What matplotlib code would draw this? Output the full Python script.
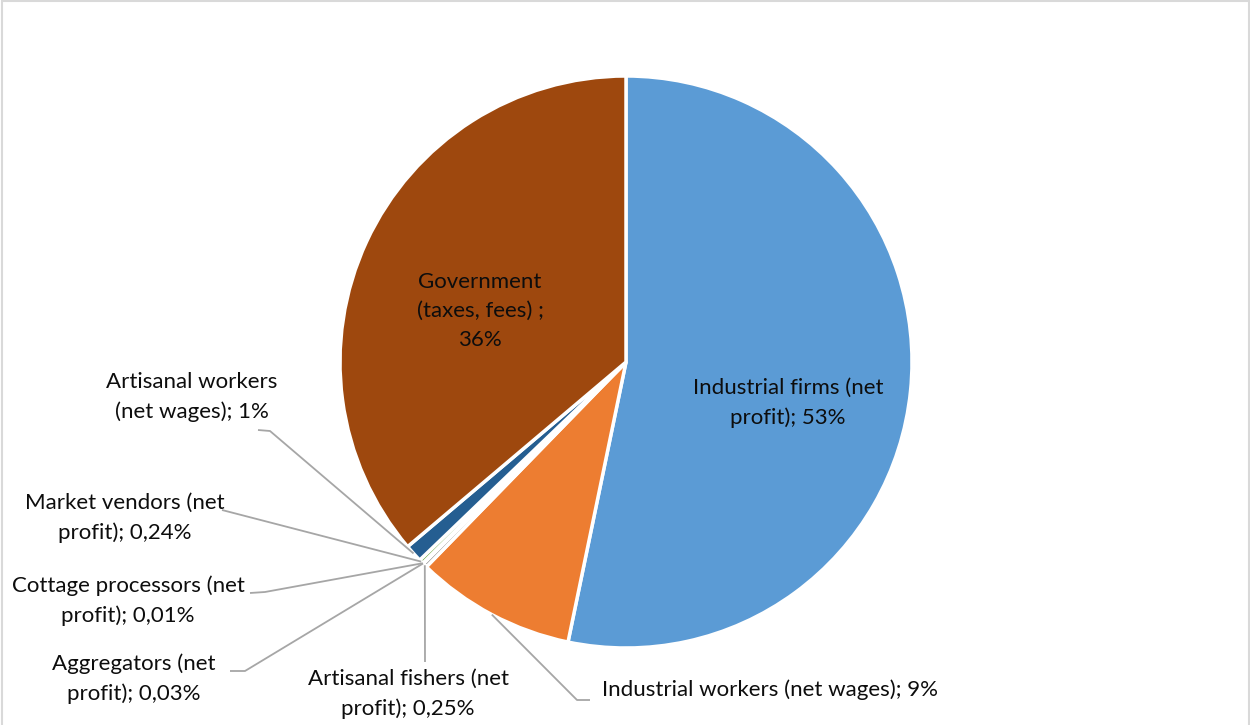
import numpy as np
import matplotlib.pyplot as plt
from matplotlib.patches import Rectangle

plt.rcParams['font.family'] = ['Lato', 'DejaVu Sans']

# shares of value (%) going clockwise from 12 o'clock
names = ["Industrial firms (net\nprofit)", "Industrial workers (net wages)",
         "Artisanal fishers (net\nprofit)", "Aggregators (net\nprofit)",
         "Cottage processors (net\nprofit)", "Market vendors (net\nprofit)",
         "Artisanal workers\n(net wages)", "Government\n(taxes, fees) "]
values = [53, 9, 0.25, 0.03, 0.01, 0.24, 1, 36]
seps = ["; ", "; ", "; ", "; ", "; ", "; ", "; ", ";\n"]
colors = ["#5B9BD5", "#ED7D31", "#A5A5A5", "#FFC000",
          "#4472C4", "#70AD47", "#255E91", "#9E480E"]

W, H = 1250, 725

def fmt(v):
    if v >= 1:
        return f"{v:.0f}%"
    return f"{v:.2f}%".replace(".", ",")

fig = plt.figure(figsize=(W / 100, H / 100), dpi=100)
ax = fig.add_axes([0, 0, 1, 1])
ax.set_xlim(0, W)
ax.set_ylim(0, H)
ax.set_aspect('equal')
ax.axis('off')

# chart frame
ax.add_patch(Rectangle((1.5, -10), W - 3, H - 0.5 + 10, fill=False,
                       edgecolor="#D9D9D9", linewidth=1.5))

cx, cy, r = 626, H - 362, 286
wedges, _ = ax.pie(values, colors=colors, startangle=90, counterclock=False,
                   center=(cx, cy), radius=r,
                   wedgeprops=dict(edgecolor='white', linewidth=2.5))
ax.set_xlim(0, W)
ax.set_ylim(0, H)

texts = [n + s + fmt(v) for n, s, v in zip(names, seps, values)]

def edge_point(w, k=1.0):
    a = np.deg2rad((w.theta1 + w.theta2) / 2)
    return cx + k * r * np.cos(a), cy + k * r * np.sin(a)

# (text centre, leader path start) in pixels from top-left; None = inside label
label_pos = [
    ((788, 403), None),
    ((770, 690), [(590, 700), (577, 700)]),
    ((408, 694), [(425, 662)]),
    ((134, 679), [(230, 671), (245, 671)]),
    ((128, 601), [(250, 593), (265, 592)]),
    ((125, 518), [(222, 510)]),
    ((192, 397), [(258, 430), (270, 431)]),
    ((480, 311), None),
]

for w, t, (pos, path) in zip(wedges, texts, label_pos):
    ax.text(pos[0], H - pos[1], t, ha='center', va='center', fontsize=16,
            color='#0D0D0D', linespacing=1.55, zorder=5)
    if path is not None:
        ex, ey = edge_point(w)
        xs = [p[0] for p in path] + [ex]
        ys = [H - p[1] for p in path] + [ey]
        ax.plot(xs, ys, color='#A6A6A6', linewidth=1.3, zorder=1,
                solid_capstyle='butt')

fig.savefig("out.png", dpi=100)
